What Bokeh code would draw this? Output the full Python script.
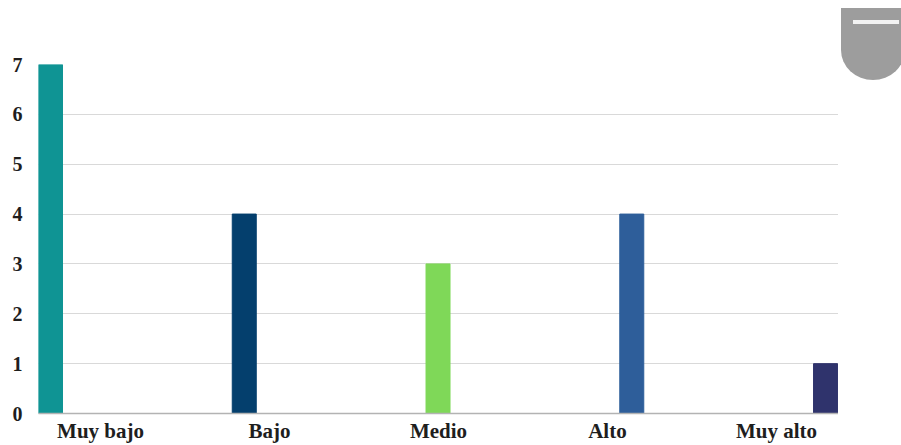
from bokeh.plotting import figure
from bokeh.layouts import row
from bokeh.models import Range1d, FixedTicker, ColumnDataSource, Div
from bokeh.embed import file_html
from bokeh.resources import INLINE

# Respondents per level
categories = ["Muy bajo", "Bajo", "Medio", "Alto", "Muy alto"]
counts = [7, 4, 3, 4, 1]
colors = ["#0f9494", "#043f6d", "#7fd858", "#2e5e9a", "#2f336c"]
y_ticks = [0, 1, 2, 3, 4, 5, 6, 7]

# Clustered layout: one series per level, each series dodged inside its group
bar_width = 0.15
series_step = 0.211
label_step = 1.056

n = len(categories)
xs = [i + i * series_step + bar_width / 2 for i in range(n)]
src = ColumnDataSource(dict(x=xs, top=counts, color=colors, cat=categories))

p = figure(width=838, height=445, output_backend="svg", toolbar_location=None,
           x_range=Range1d(0, n), y_range=Range1d(0, 7),
           min_border_left=38, min_border_right=0, min_border_top=64,
           min_border_bottom=31)
p.outline_line_color = None
p.background_fill_color = "white"
p.border_fill_color = "white"

p.vbar(x="x", top="top", bottom=0, width=bar_width, color="color", source=src)

# Category labels along the x axis
label_pos = [round(n / 2 + (i - (n - 1) / 2) * label_step, 3) for i in range(n)]
p.xaxis.ticker = FixedTicker(ticks=label_pos)
p.xaxis.major_label_overrides = {pos: c for pos, c in zip(label_pos, categories)}
p.xaxis.major_tick_in = 0
p.xaxis.major_tick_out = 0
p.xaxis.minor_tick_line_color = None
p.xaxis.axis_line_color = "#b3b3b3"
p.xaxis.axis_line_width = 1.5
p.xaxis.major_label_standoff = 5
p.xaxis.major_label_text_font = "Liberation Serif"
p.xaxis.major_label_text_font_style = "bold"
p.xaxis.major_label_text_font_size = "21px"
p.xaxis.major_label_text_color = "#1e1e1e"

p.yaxis.ticker = FixedTicker(ticks=y_ticks)
p.yaxis.major_tick_in = 0
p.yaxis.major_tick_out = 0
p.yaxis.minor_tick_line_color = None
p.yaxis.axis_line_color = None
p.yaxis.major_label_standoff = 16
p.yaxis.major_label_text_font = "Liberation Serif"
p.yaxis.major_label_text_font_style = "bold"
p.yaxis.major_label_text_font_size = "20px"
p.yaxis.major_label_text_color = "#1e1e1e"

p.xgrid.grid_line_color = None
p.ygrid.grid_line_color = "#d9d9d9"
p.ygrid.grid_line_width = 1

# Grey collapse tab at the top right corner
tab_html = (
    '<div style="width:63px;height:445px;overflow:hidden;position:relative;">'
    '<div style="position:absolute;left:3px;top:8px;width:64px;height:72px;'
    'background:#9d9d9d;border-radius:0 0 32px 32px / 0 0 30px 30px;">'
    '<div style="position:absolute;left:12px;top:12px;width:46px;height:4px;'
    'background:#f2f2f2;"></div></div></div>'
)
tab = Div(text=tab_html, width=63, height=445, margin=(0, 0, 0, 0))

layout = row(p, tab, spacing=0)
open("out.html", "w").write(file_html(layout, INLINE))
